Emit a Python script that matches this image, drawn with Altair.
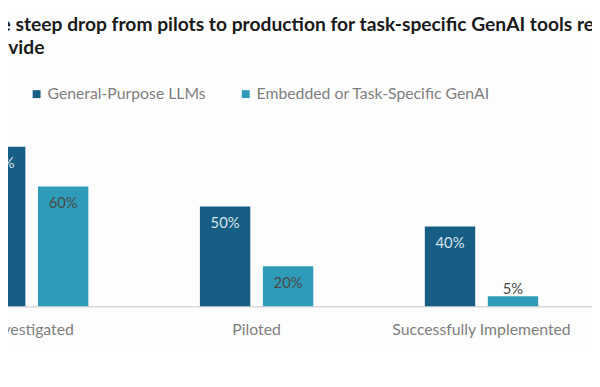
import altair as alt
import pandas as pd

stages = ["Investigated", "Piloted", "Successfully Implemented"]
series_names = ["General-Purpose LLMs", "Embedded or Task-Specific GenAI"]
general_pct = [80, 50, 40]
embedded_pct = [60, 20, 5]
colors = ["#165e83", "#2e9bb9"]
title_lines = [
    "The steep drop from pilots to production for task-specific GenAI tools reveals the GenAI",
    "\u2800divide",
]

rows = []
for s, g, e in zip(stages, general_pct, embedded_pct):
    rows.append({"stage": s, "series": series_names[0], "value": g, "label": f"{g}%"})
    rows.append({"stage": s, "series": series_names[1], "value": e, "label": f"{e}%"})
df = pd.DataFrame(rows)

FONT = "Lato"

x = alt.X(
    "stage:N",
    sort=stages,
    scale=alt.Scale(paddingInner=0.496, paddingOuter=0.248),
    axis=alt.Axis(
        title=None, labelAngle=0, domainColor="#d9d9d9", domainWidth=1.5,
        ticks=False, labelPadding=16, labelFontSize=16, labelColor="#7f7f7f",
        labelFont=FONT, labelLimit=0,
    ),
)
xo = alt.XOffset("series:N", sort=series_names,
                 scale=alt.Scale(paddingInner=0.2, paddingOuter=0))
y = alt.Y("value:Q", scale=alt.Scale(domain=[0, 90]), axis=None)

base = alt.Chart(df)

bars = base.mark_bar().encode(
    x=x, xOffset=xo, y=y,
    color=alt.Color(
        "series:N", sort=series_names,
        scale=alt.Scale(domain=series_names, range=colors),
        legend=alt.Legend(
            title=None, orient="none", legendX=111, legendY=-41,
            direction="horizontal", symbolType="square", symbolSize=64,
            symbolStrokeWidth=0, labelFontSize=16, labelColor="#7f7f7f",
            labelFont=FONT, labelOffset=3, columnPadding=32, labelLimit=0,
        ),
    ),
)

inside = base.transform_filter(alt.datum.value >= 10).mark_text(
    baseline="middle", dy=17, fontSize=15, font=FONT
).encode(
    x=x, xOffset=xo, y=y, text="label:N",
    color=alt.condition(alt.datum.series == series_names[0],
                        alt.value("#d6e4ec"), alt.value("#4a4a4a")),
)

outside = base.transform_filter(alt.datum.value < 10).mark_text(
    baseline="middle", dy=-7, fontSize=15, font=FONT, color="#4a4a4a"
).encode(x=x, xOffset=xo, y=y, text="label:N")

chart = alt.layer(bars, inside, outside).properties(
    width=684, height=182,
    autosize=alt.AutoSizeParams(type="none"),
    padding={"left": -90, "top": 118, "right": -2, "bottom": 37},
    background="#fdfdfd",
    title=alt.TitleParams(
        text=title_lines, anchor="start", frame="group", dx=60, offset=28,
        fontSize=19.5, font=FONT, fontWeight="bold", color="#1a1a1a", lineHeight=23,
    ),
).configure_view(stroke=None)

chart.save("out.html", embed_options={"renderer": "svg", "actions": False})
